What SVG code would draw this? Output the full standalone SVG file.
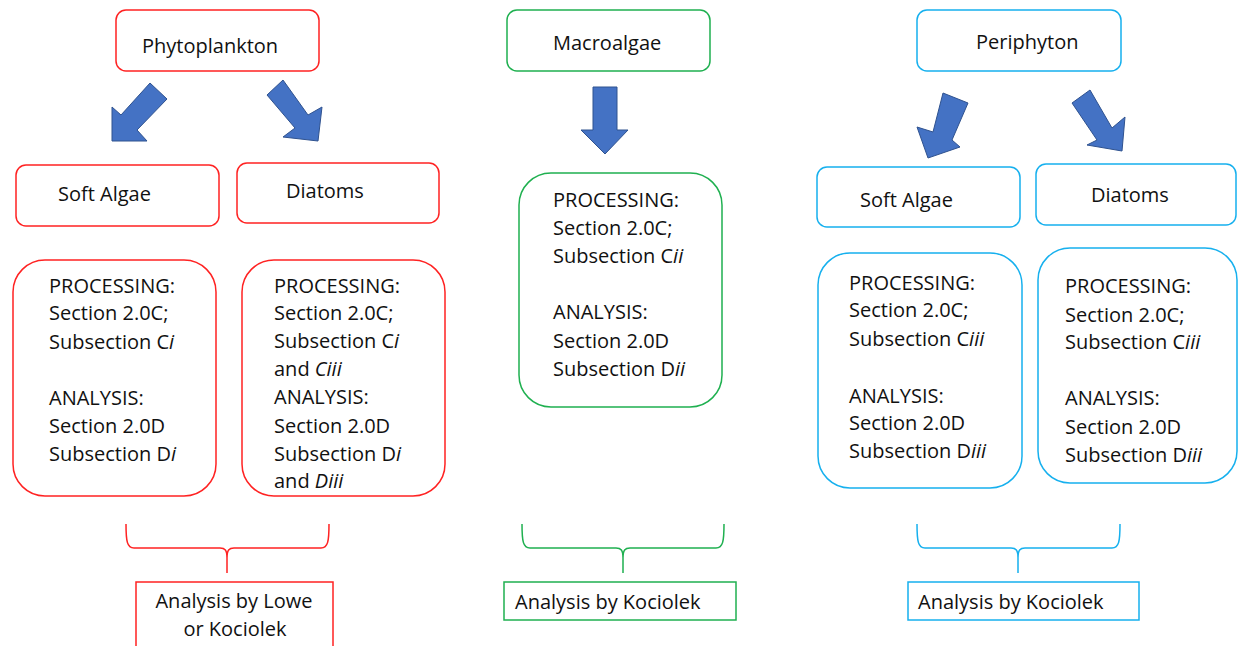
<svg xmlns="http://www.w3.org/2000/svg" width="1238" height="646" viewBox="0 0 1238 646">
<style>
text{font-family:"Open Sans","Liberation Sans",sans-serif;font-size:20px;fill:#111}
.i{font-style:italic}
.red{fill:#fff;stroke:#f22;stroke-width:1.5}
.grn{fill:#fff;stroke:#1fb050;stroke-width:1.5}
.blu{fill:#fff;stroke:#16b0ee;stroke-width:1.5}
.arr{fill:#4472c4;stroke:#2f528f;stroke-width:1}
.br{fill:none;stroke-width:1.5}
.c{text-anchor:middle}
</style>
<rect width="1238" height="646" fill="#fff"/>

<g id="phytoplankton"><rect class="red" x="116" y="10" width="203" height="61" rx="10"/><text x="142" y="53">Phytoplankton</text></g>
<g id="soft-algae-1"><rect class="red" x="16" y="165" width="203" height="61" rx="10"/><text x="58" y="201">Soft Algae</text></g>
<g id="diatoms-1"><rect class="red" x="237" y="163" width="202" height="60" rx="10"/><text x="286" y="198">Diatoms</text></g>
<g id="proc-soft-1"><rect class="red" x="13" y="260" width="203" height="236" rx="32"/>
<text x="49" y="293">PROCESSING:</text>
<text x="49" y="320">Section 2.0C;</text>
<text x="49" y="349">Subsection C<tspan class="i">i</tspan></text>
<text x="49" y="405">ANALYSIS:</text>
<text x="49" y="433">Section 2.0D</text>
<text x="49" y="461">Subsection D<tspan class="i">i</tspan></text></g>
<g id="proc-diatoms-1"><rect class="red" x="242" y="260" width="203" height="236" rx="32"/>
<text x="274" y="293">PROCESSING:</text>
<text x="274" y="320">Section 2.0C;</text>
<text x="274" y="348">Subsection C<tspan class="i">i</tspan></text>
<text x="274" y="376">and <tspan class="i">Ciii</tspan></text>
<text x="274" y="404">ANALYSIS:</text>
<text x="274" y="433">Section 2.0D</text>
<text x="274" y="461">Subsection D<tspan class="i">i</tspan></text>
<text x="274" y="488">and <tspan class="i">Diii</tspan></text></g>
<g id="analysis-lowe"><rect fill="#fff" stroke="#f22" stroke-width="1.5" x="136" y="582" width="197" height="90"/>
<text class="c" x="234" y="608">Analysis by Lowe</text>
<text class="c" x="235" y="636">or Kociolek</text></g>

<g id="macroalgae"><rect class="grn" x="507" y="10" width="203" height="61" rx="10"/><text x="553" y="50">Macroalgae</text></g>
<g id="proc-macro"><rect class="grn" x="519" y="173" width="203" height="234" rx="32"/>
<text x="553" y="207">PROCESSING:</text>
<text x="553" y="235">Section 2.0C;</text>
<text x="553" y="263">Subsection C<tspan class="i">ii</tspan></text>
<text x="553" y="319">ANALYSIS:</text>
<text x="553" y="348">Section 2.0D</text>
<text x="553" y="376">Subsection D<tspan class="i">ii</tspan></text></g>
<g id="analysis-macro"><rect fill="#fff" stroke="#1fb050" stroke-width="1.5" x="504" y="582" width="232" height="38"/><text x="515" y="609">Analysis by Kociolek</text></g>

<g id="periphyton"><rect class="blu" x="917" y="10" width="204" height="61" rx="10"/><text x="976" y="49">Periphyton</text></g>
<g id="soft-algae-2"><rect class="blu" x="817" y="167" width="203" height="60" rx="10"/><text x="860" y="207">Soft Algae</text></g>
<g id="diatoms-2"><rect class="blu" x="1036" y="164" width="200" height="61" rx="10"/><text x="1091" y="202">Diatoms</text></g>
<g id="proc-soft-2"><rect class="blu" x="818" y="253" width="204" height="235" rx="32"/>
<text x="849" y="290">PROCESSING:</text>
<text x="849" y="317">Section 2.0C;</text>
<text x="849" y="346">Subsection C<tspan class="i">iii</tspan></text>
<text x="849" y="403">ANALYSIS:</text>
<text x="849" y="430">Section 2.0D</text>
<text x="849" y="458">Subsection D<tspan class="i">iii</tspan></text></g>
<g id="proc-diatoms-2"><rect class="blu" x="1038" y="248" width="199" height="235" rx="32"/>
<text x="1065" y="293">PROCESSING:</text>
<text x="1065" y="322">Section 2.0C;</text>
<text x="1065" y="349">Subsection C<tspan class="i">iii</tspan></text>
<text x="1065" y="405">ANALYSIS:</text>
<text x="1065" y="434">Section 2.0D</text>
<text x="1065" y="462">Subsection D<tspan class="i">iii</tspan></text></g>
<g id="analysis-peri"><rect fill="#fff" stroke="#16b0ee" stroke-width="1.5" x="908" y="582" width="231" height="38"/><text x="918" y="609">Analysis by Kociolek</text></g>

<g id="connectors">
<polygon class="arr" points="150,83 167,99 137,130 147,141 112,141 112,107 121,115"/>
<polygon class="arr" points="267,95 283,80 308,115 322,107 318,141 283,137 295,128"/>
<polygon class="arr" points="593,87 617,87 617,130 628,130 605,154 581,130 593,130"/>
<polygon class="arr" points="943,93 968,103 952,140 960,147 928,158 917,127 933,132"/>
<polygon class="arr" points="1072,103 1090,90 1112,128 1125,117 1122,151 1087,145 1097,140"/>
<path class="br" stroke="#f22" d="M126,524 C126,541 127,548 134,548 L220,548 C225,548 227,550 227,558 L227,573 M227,558 C227,550 229,548 234,548 L321,548 C328,548 329,541 329,524"/>
<path class="br" stroke="#1fb050" d="M522,524 C522,541 523,548 530,548 L616,548 C621,548 623,550 623,558 L623,573 M623,558 C623,550 625,548 630,548 L716,548 C723,548 724,541 724,524"/>
<path class="br" stroke="#16b0ee" d="M917,524 C917,541 918,548 925,548 L1011,548 C1016,548 1018,550 1018,558 L1018,573 M1018,558 C1018,550 1020,548 1025,548 L1112,548 C1119,548 1120,541 1120,524"/>
</g>
</svg>
